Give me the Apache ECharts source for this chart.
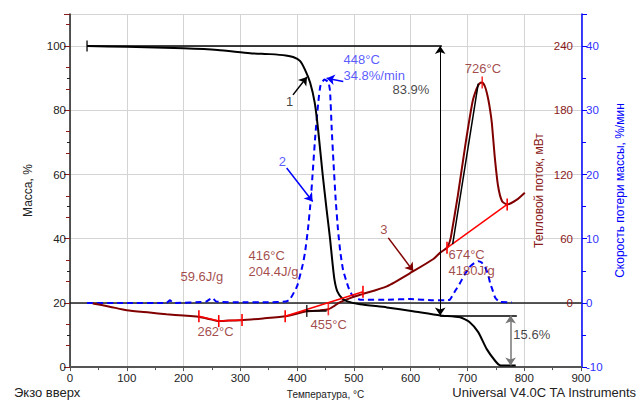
<!DOCTYPE html>
<html>
<head>
<meta charset="utf-8">
<script src="https://cdn.jsdelivr.net/npm/echarts@6.0.0/dist/echarts.min.js"></script>
<style>
  html, body { margin: 0; padding: 0; background: #fff; }
  #chart { width: 641px; height: 404px; }
</style>
</head>
<body>
<div id="chart"></div>
<script>
// TGA / DTG / DSC run, temperature in °C
const massT   = [30, 100, 200, 260, 317, 352, 380, 393, 405, 414, 423, 431, 437, 445, 452, 458, 462, 466, 471, 480, 490, 511, 558, 604, 652, 687, 704, 719, 734, 749, 757, 770, 785];
const massPct = [100, 99.8, 99.3, 98.8, 97.8, 97.5, 97.1, 96.6, 95.4, 92.6, 88.6, 82.4, 74, 60, 49, 40, 33, 27, 23.5, 21.3, 20.4, 19.6, 18.6, 17.4, 16.1, 15.5, 14.0, 10.9, 5.6, 1.9, 0.6, 0.5, 0.5];

const heatT    = [40, 70, 100, 140, 170, 200, 223, 245, 262, 280, 300, 340, 380, 417, 440, 455, 465, 475, 497, 514, 558, 604, 640, 652, 664, 668, 671, 683, 697, 709, 716, 721, 726, 731, 736, 740, 743, 748, 754, 761, 770, 787, 801];
const heatFlow = [-0.5, -3.5, -6.9, -9, -10.6, -11.8, -12.7, -15, -17, -16.5, -16.2, -14.5, -12.5, -7.8, -7, -6, -3, 0.5, 5.2, 8, 15.5, 29.4, 41, 47, 51.5, 56, 62, 100, 150, 188, 200, 205, 206, 202, 192, 180, 168, 137, 109, 95, 92, 96.5, 103];

const rateT   = [30, 100, 170, 176, 182, 240, 250, 258, 300, 350, 380, 387, 400, 410, 414, 419, 424, 428, 432, 437, 441, 448, 455, 458, 461, 464, 468, 472, 476, 481, 490, 497, 511, 560, 600, 640, 660, 669, 678, 687, 695, 704, 712, 719, 725, 731, 736, 740, 745, 749, 757, 778];
const rateVal = [0, 0, 0, 0.4, 0, 0.2, 0.8, 0.2, 0.1, 0.1, 0.2, 0.5, 2.6, 6, 7.9, 11.4, 16, 21, 26, 31, 33.8, 34.8, 34.4, 33, 27, 22, 16, 11.4, 8, 5.1, 2.5, 1.2, 0.5, 0.5, 0.6, 0.4, 0.4, 0.5, 1.8, 3.1, 4.4, 5.6, 6.2, 6.5, 6.3, 5.6, 4.5, 3.1, 1.8, 0.8, 0.15, 0.1];

// DSC integration baselines (temperature, heat flow)
const baseline1 = [[227, -12.5], [262, -17], [303, -16]];
const baseline2 = [[379, -12.5], [516, 10.5]];
const baseline3 = [[664, 51.5], [770, 92]];
const onsetTangent = [[674, 55], [719, 205]];
const peak416Mark = [[417, -7.5], [452, -7.5]];
const peak455Mark = [455, -6];

// mass step read-outs
const massStart = 100, massPlateau = 16.1, massResidue = 0.5;
const stepT = 652, residueT = 776, runStartT = 30;

// peak read-outs
const dtgPeak = { t: 448, v: 34.8 };
const dscPeakT = 726;

const darkRed = '#8b1a1a';
const curveRed = '#800000';
const blue = '#0000ff';
const textBlue = '#2f2fff';
const font = 'Liberation Sans, Arial, sans-serif';

const pt = (xs, ys) => xs.map((x, i) => [x, ys[i]]);

// annotation text: [T, value, text, anchor]
const massNotes = [
  [567, 86.6, (massStart - massPlateau).toFixed(1) + '%', 'l'],
  [780, 10.2, (massPlateau - massResidue).toFixed(1) + '%', 'l'],
  [386.6, 82.6, '1', 'c']
];
const heatNotes = [
  [727.4, 218.6, dscPeakT + '°C', 'c'],
  [193.7, 24.8, '59.6J/g', 'l'],
  [223.5, -26.5, '262°C', 'l'],
  [313.5, 36.4, '416°C\n204.4J/g', 'l'],
  [422.7, -20.1, '455°C', 'l'],
  [553, 68.6, '3', 'c'],
  [665.7, 37.4, '674°C\n4180J/g', 'l']
];
const rateNotes = [
  [480.8, 36.7, dtgPeak.t + '°C\n' + dtgPeak.v + '%/min', 'l'],
  [374, 22, '2', 'c']
];

function textSeries(yAxisIndex, color, notes) {
  return {
    type: 'scatter', yAxisIndex, symbolSize: 1, silent: true, z: 6,
    itemStyle: { color: 'rgba(0,0,0,0)' },
    data: notes.map(n => ({
      value: [n[0], n[1]],
      label: {
        show: true, formatter: n[2], color, fontSize: 13, lineHeight: 16, fontFamily: font,
        position: n[3] === 'c' ? 'inside' : 'right', distance: 0
      }
    }))
  };
}

function tickLine(yAxisIndex, data, color) {
  return {
    type: 'line', yAxisIndex, data, silent: true, z: 4,
    symbol: 'rect', symbolSize: [1.6, 12], showSymbol: true,
    itemStyle: { color }, lineStyle: { color, width: 1.5 }
  };
}

const arrowLine = (from, to, color, width, both) => [
  { coord: from, symbol: both ? 'arrow' : 'none', lineStyle: { color, width, type: 'solid' } },
  { coord: to, symbol: 'arrow' }
];
const plainLine = (from, to, color, width) => [
  { coord: from, symbol: 'none', lineStyle: { color, width, type: 'solid' } },
  { coord: to, symbol: 'none' }
];

const chart = echarts.init(document.getElementById('chart'), null, { renderer: 'svg' });

chart.setOption({
  animation: false,
  backgroundColor: '#fff',
  textStyle: { fontFamily: font },
  grid: { left: 70, right: 60, top: 14, bottom: 36 },
  xAxis: [
    {
      type: 'value', min: 0, max: 900, interval: 100, position: 'bottom',
      axisLine: { show: true, lineStyle: { color: '#555', width: 2 } },
      axisTick: { show: true, length: 4, lineStyle: { color: '#555' } },
      minorTick: { show: true, splitNumber: 2, length: 3, lineStyle: { color: '#555' } },
      axisLabel: { color: '#222', fontSize: 11.5, margin: 5 },
      splitLine: { show: true, lineStyle: { color: '#d4d4d4', width: 1 } },
      name: 'Температура, °C', nameLocation: 'middle', nameGap: 19,
      nameTextStyle: { fontSize: 10, color: '#222' }
    },
    {
      type: 'value', min: 0, max: 900, position: 'top',
      axisLine: { show: true, lineStyle: { color: '#222', width: 1.5 } },
      axisTick: { show: false }, axisLabel: { show: false }, splitLine: { show: false }
    }
  ],
  yAxis: [
    {
      type: 'value', min: 0, max: 110, interval: 20, position: 'left',
      axisLine: { show: true, lineStyle: { color: '#222', width: 1.5 } },
      axisTick: { show: true, length: 5, lineStyle: { color: '#222' } },
      minorTick: { show: true, splitNumber: 2, length: 3, lineStyle: { color: '#222' } },
      axisLabel: { color: '#222', fontSize: 11.5, margin: 4, showMaxLabel: false },
      splitLine: { show: true, lineStyle: { color: '#d4d4d4', width: 1 } },
      name: 'Масса, %', nameLocation: 'middle', nameGap: 36,
      nameTextStyle: { fontSize: 12, color: '#222' }
    },
    {
      type: 'value', min: -60, max: 270, interval: 60, position: 'right',
      axisLine: { show: false },
      axisTick: { show: true, inside: true, length: 6, lineStyle: { color: darkRed } },
      minorTick: { show: true, splitNumber: 3, length: 4, lineStyle: { color: darkRed } },
      axisLabel: { inside: true, color: darkRed, fontSize: 11.5, margin: 8, showMaxLabel: false,
                   formatter: v => (v < 0 ? '' : String(v)) },
      splitLine: { show: false },
      name: 'Тепловой поток, мВт', nameLocation: 'middle', nameGap: -48,
      nameMoveOverlap: false,
      nameTextStyle: { fontSize: 12, color: darkRed }
    },
    {
      type: 'value', min: -10, max: 45, interval: 10, position: 'right', offset: 1,
      axisLine: { show: true, lineStyle: { color: blue, width: 1.5 } },
      axisTick: { show: true, length: 5, lineStyle: { color: blue } },
      minorTick: { show: true, splitNumber: 2, length: 4, lineStyle: { color: blue } },
      axisLabel: { color: textBlue, fontSize: 11.5, margin: 4, showMaxLabel: false },
      splitLine: { show: false },
      name: 'Скорость потери массы, %/мин', nameLocation: 'middle', nameGap: 32,
      nameTextStyle: { fontSize: 12, color: blue }
    }
  ],
  series: [
    // 2 - DTG, dashed blue
    {
      type: 'line', yAxisIndex: 2, data: pt(rateT, rateVal), smooth: 0.15,
      symbol: 'none', z: 3,
      lineStyle: { color: blue, width: 2, type: [6, 4] },
      markLine: {
        silent: true, symbolSize: 8, label: { show: false },
        data: [
          arrowLine([381.6, 21], [427.4, 15.8], blue, 1.5, false),
          arrowLine([481.3, 34.5], [452, 35], blue, 1.5, false)
        ]
      }
    },
    // 3 - heat flow, dark red
    {
      type: 'line', yAxisIndex: 1, data: pt(heatT, heatFlow), smooth: 0.2,
      symbol: 'none', z: 3,
      lineStyle: { color: curveRed, width: 2 },
      markLine: {
        silent: true, symbolSize: 8, label: { show: false },
        data: [
          arrowLine([560.6, 60.8], [604.6, 29.7], curveRed, 1.5, false),
          plainLine(onsetTangent[0], onsetTangent[1], '#000', 1.5),
          plainLine(peak416Mark[0], peak416Mark[1], '#000', 1.5)
        ]
      }
    },
    // 1 - mass, black
    {
      type: 'line', yAxisIndex: 0, data: pt(massT, massPct), smooth: 0.2,
      symbol: 'none', z: 4,
      lineStyle: { color: '#000', width: 2 },
      markLine: {
        silent: true, symbolSize: 8, label: { show: false },
        data: [
          plainLine([runStartT, massStart], [stepT + 3, massStart], '#000', 1.5),
          arrowLine([stepT, massPlateau], [stepT, massStart], '#000', 1, true),
          plainLine([stepT, massPlateau], [787, massPlateau], '#000', 1.5),
          arrowLine([residueT, massPlateau], [residueT, massResidue], '#777', 1.5, true),
          arrowLine([392.7, 84.8], [417.4, 90.4], '#000', 1.5, false)
        ]
      }
    },
    tickLine(1, baseline1, '#ff0000'),
    tickLine(1, baseline2, '#ff0000'),
    tickLine(1, baseline3, '#ff0000'),
    {
      type: 'scatter', yAxisIndex: 1, silent: true, z: 5,
      symbol: 'rect', symbolSize: [1.6, 12],
      data: [
        { value: peak455Mark, itemStyle: { color: '#ff0000' } },
        { value: peak416Mark[0], itemStyle: { color: '#000' } },
        { value: [dscPeakT, 206], itemStyle: { color: '#ff0000' } }
      ]
    },
    {
      type: 'scatter', yAxisIndex: 0, silent: true, z: 5,
      symbol: 'rect', symbolSize: [1.6, 11], itemStyle: { color: '#000' },
      data: [[runStartT, massStart]]
    },
    textSeries(0, '#111', massNotes),
    textSeries(1, darkRed, heatNotes),
    textSeries(2, textBlue, rateNotes)
  ],
  graphic: [
    { type: 'text', left: 14, top: 386, style: { text: 'Экзо вверх', fontSize: 13, fill: '#222', fontFamily: font } },
    { type: 'text', right: 4, top: 386, style: { text: 'Universal V4.0C TA Instruments', fontSize: 13, fill: '#222', fontFamily: font } }
  ]
});
</script>
</body>
</html>
